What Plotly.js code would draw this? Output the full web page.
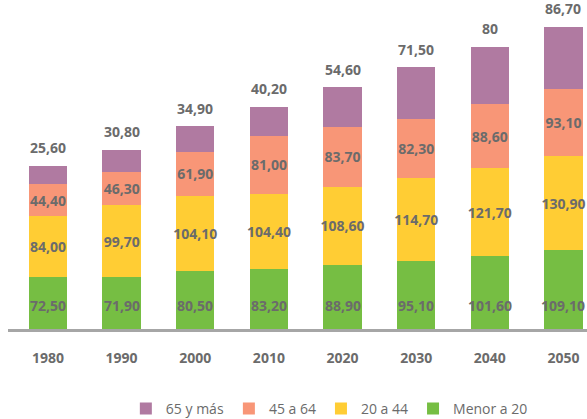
<!DOCTYPE html>
<html>
<head>
<meta charset="utf-8">
<script src="https://cdn.plot.ly/plotly-3.0.1.min.js"></script>
<style>
  html, body { margin: 0; padding: 0; background: #ffffff; }
  #chart { width: 587px; height: 419px; }
</style>
</head>
<body>
<div id="chart"></div>
<script>
const years = ['1980', '1990', '2000', '2010', '2020', '2030', '2040', '2050'];
const menor20 = [72.5, 71.9, 80.5, 83.2, 88.9, 95.1, 101.6, 109.1];
const de20a44 = [84.0, 99.7, 104.1, 104.4, 108.6, 114.7, 121.7, 130.9];
const de45a64 = [44.4, 46.3, 61.9, 81.0, 83.7, 82.3, 88.6, 93.1];
const mas65 = [25.6, 30.8, 34.9, 40.2, 54.6, 71.5, 80, 86.7];
const mas65Labels = ['25,60', '30,80', '34,90', '40,20', '54,60', '71,50', '80', '86,70'];
const seriesNames = ['Menor a 20', '20 a 44', '45 a 64', '65 y más'];

const colors = ['#76BE43', '#FFCD34', '#F89677', '#B07AA1'];
const labelColor = '#6b6b6b';
const fam = '"Open Sans", "DejaVu Sans", sans-serif';
const fmt = v => v.toFixed(2).replace('.', ',');

function labelFont() {
  return { family: fam, size: 14, color: labelColor, weight: 'bold' };
}

function barTrace(name, vals, color, withText) {
  const t = {
    type: 'bar',
    name: name,
    x: years,
    y: vals,
    marker: { color: color, line: { width: 0 } },
    hoverinfo: 'none'
  };
  if (withText) {
    t.text = vals.map(fmt);
    t.textposition = 'inside';
    t.insidetextanchor = 'middle';
    t.textangle = 0;
    t.constraintext = 'none';
    t.textfont = labelFont();
  } else {
    t.textposition = 'none';
  }
  return t;
}

const data = [
  barTrace(seriesNames[0], menor20, colors[0], false),
  barTrace(seriesNames[1], de20a44, colors[1], true),
  barTrace(seriesNames[2], de45a64, colors[2], true),
  barTrace(seriesNames[3], mas65, colors[3], false)
];

// Annotation x uses the category index (position of each year in the list)
const annotations = [];
years.forEach((yr, i) => {
  const total = menor20[i] + de20a44[i] + de45a64[i] + mas65[i];
  annotations.push({
    x: i, y: total, xref: 'x', yref: 'y',
    text: mas65Labels[i], showarrow: false,
    yanchor: 'middle', yshift: 18, font: labelFont()
  });
  annotations.push({
    x: i, y: 0, xref: 'x', yref: 'y',
    text: fmt(menor20[i]), showarrow: false,
    yanchor: 'middle', yshift: 24, font: labelFont()
  });
});

const layout = {
  width: 587,
  height: 419,
  margin: { l: 8, r: 0, t: 10, b: 90, pad: 0 },
  paper_bgcolor: '#ffffff',
  plot_bgcolor: '#ffffff',
  barmode: 'stack',
  bargap: 0.48,
  showlegend: true,
  legend: {
    orientation: 'h',
    traceorder: 'reversed',
    x: 0.555, xanchor: 'center',
    yref: 'container',
    y: 0.024, yanchor: 'middle',
    font: { family: fam, size: 14, color: labelColor },
    itemclick: false, itemdoubleclick: false
  },
  xaxis: {
    type: 'category',
    range: [-0.543, 7.32],
    showline: true,
    linecolor: '#A6A6A6',
    linewidth: 3,
    ticks: '',
    showgrid: false,
    zeroline: false,
    fixedrange: true,
    ticklabelstandoff: 14,
    tickfont: { family: fam, size: 14, color: labelColor, weight: 'bold' }
  },
  yaxis: {
    range: [0, 443],
    visible: false,
    showgrid: false,
    zeroline: false,
    fixedrange: true
  },
  annotations: annotations,
  hovermode: false
};

Plotly.newPlot('chart', data, layout, { displayModeBar: false, staticPlot: true });
</script>
</body>
</html>
